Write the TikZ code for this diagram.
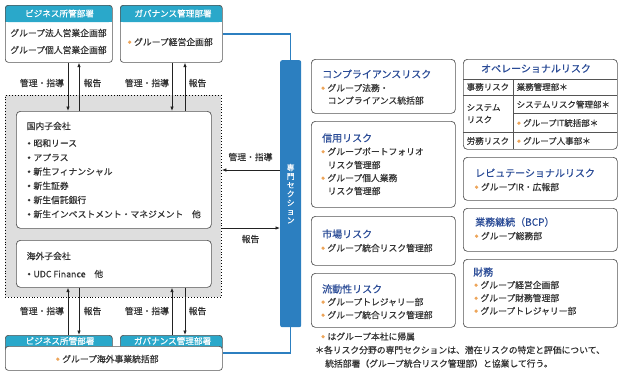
\documentclass[tikz,border=0pt]{standalone}
\usepackage{fontspec}
\setmainfont{Noto Sans CJK JP}[FakeBold=0.5]
\usetikzlibrary{arrows.meta}

\newcommand{\bodyFont}{\fontsize{8.8}{10}\selectfont}
\newcommand{\headFont}{\fontsize{8.6}{10}\selectfont}
\newcommand{\titleFont}{\fontsize{10}{12}\selectfont}
\newcommand{\tableFont}{\fontsize{8.5}{10}\selectfont}
\newcommand{\obul}{\makebox[1em][c]{\tikz[baseline=-0.36em]\fill[bulletOrange] (0,0) circle (1.8pt);}}
\newcommand{\bbul}{\makebox[1em][c]{\tikz[baseline=-0.36em]\fill[textGrey] (0,0) circle (1.4pt);}}

\begin{document}
\begin{tikzpicture}[x=1pt, y=-1pt,
    panel/.style={draw=borderGrey, line width=0.7pt, rounded corners=3pt, anchor=north west, inner sep=0pt},
    whitePanel/.style={panel, fill=white},
    tabPanel/.style={panel, fill=headTeal},
    txt/.style={anchor=west, inner sep=0pt, font=\bodyFont, text=textGrey},
    ctxt/.style={inner sep=0pt, font=\bodyFont, text=textGrey},
    tabletxt/.style={anchor=west, inner sep=0pt, font=\tableFont, text=textGrey},
    headtxt/.style={inner sep=0pt, font=\headFont, text=white},
    riskTitle/.style={anchor=west, inner sep=0pt, font=\titleFont, text=titleBlue},
    flow/.style={draw=lineBlack, line width=0.8pt, -{Latex[length=4.5pt,width=3.6pt]}},
    barLink/.style={draw=barBlue, line width=1.3pt},
    tableLine/.style={draw=borderGrey, line width=0.6pt},
]
    \definecolor{borderGrey}{HTML}{555555}
    \definecolor{textGrey}{HTML}{333333}
    \definecolor{lineBlack}{HTML}{222222}
    \definecolor{headTeal}{HTML}{2AA8CA}
    \definecolor{barBlue}{HTML}{2C7FC0}
    \definecolor{titleBlue}{HTML}{2A4B96}
    \definecolor{bulletOrange}{HTML}{EDA55A}
    \definecolor{areaGrey}{HTML}{DEDEDE}

    \useasboundingbox (0,0) rectangle (621,376);

    % Arrow columns and rows
    \coordinate (colA) at (68,0);
    \coordinate (colB) at (79,0);
    \coordinate (colC) at (172,0);
    \coordinate (colD) at (185,0);
    \coordinate (rowGuide) at (0,170);
    \coordinate (rowReport) at (0,228);

    % Draw top units
    \fill[headTeal, rounded corners=3pt] (5,5) rectangle (112,22);
    \fill[headTeal] (5,14) rectangle (112,22);
    \node[panel, minimum width=107pt, minimum height=57pt] (bizTop) at (5,5) {};
    \node[headtxt] (bizTopHead) at (59.5,13.5) {ビジネス所管部署};
    \node[ctxt] (bizTopA) at (58.5,33) {グループ法人営業企画部};
    \node[ctxt] (bizTopB) at (58.5,50) {グループ個人営業企画部};

    \fill[headTeal, rounded corners=3pt] (120,5) rectangle (222,22);
    \fill[headTeal] (120,14) rectangle (222,22);
    \node[panel, minimum width=102pt, minimum height=57pt] (govTop) at (120,5) {};
    \node[headtxt] (govTopHead) at (173,13.5) {ガバナンス管理部署};
    \node[ctxt] (govTopA) at (169,42) {\obul グループ経営企画部};

    % Draw group area
    \node[anchor=north west, inner sep=0pt, minimum width=216pt, minimum height=202pt,
          fill=areaGrey, draw=black, dotted, line width=0.9pt] (groupArea) at (5,95) {};
    \node[whitePanel, rounded corners=4pt, minimum width=195pt, minimum height=117pt] (domestic) at (16,111) {};
    \node[txt] (domTitle) at (26.5,126) {国内子会社};
    \foreach \name [count=\i] in {昭和リース, アプラス, 新生フィナンシャル, 新生証券, 新生信託銀行, 新生インベストメント・マネジメント　他}
        \node[txt] (domItem\i) at (24.5,{129+14.2*\i}) {\bbul\name};

    \node[whitePanel, rounded corners=4pt, minimum width=195pt, minimum height=47pt] (overseas) at (16,240) {};
    \node[txt] (ovsTitle) at (26.5,256) {海外子会社};
    \node[txt] (ovsItem) at (24.5,274) {\bbul UDC Finance　他};

    % Draw bottom unit
    \node[tabPanel, minimum width=107pt, minimum height=15pt] (bizTab) at (5,335) {};
    \node[tabPanel, minimum width=102pt, minimum height=15pt] (govTab) at (120,335) {};
    \node[whitePanel, minimum width=217pt, minimum height=24pt] (bottomBody) at (5,346) {};
    \node[headtxt] (bizTabText) at (60,341) {ビジネス所管部署};
    \node[headtxt] (govTabText) at (172.5,341) {ガバナンス管理部署};
    \node[ctxt] (bottomItem) at (106,359) {\obul グループ海外事業統括部};

    % Draw specialist section bar
    \node[anchor=north west, inner sep=0pt, minimum width=21pt, minimum height=267pt,
          fill=barBlue, rounded corners=2pt] (senmon) at (280,60) {};
    \node[inner sep=0pt, align=center, text=white, font=\fontsize{7.8}{8.8}\selectfont] (senmonText) at (senmon.center)
        {専\\門\\セ\\ク\\シ\\ョ\\ン};
    \draw[barLink] (govTop.east) -| (senmon.north);
    \draw[barLink] (senmon.south) |- ([yshift=5.5pt]bottomBody.east);

    % Draw vertical arrows
    \draw[flow] (bizTop.south -| colA) -- (domestic.north -| colA);
    \draw[flow] (domestic.north -| colB) -- (bizTop.south -| colB);
    \draw[flow] (govTop.south -| colC) -- (domestic.north -| colC);
    \draw[flow] (domestic.north -| colD) -- (govTop.south -| colD);
    \draw[flow] (bizTab.north -| colA) -- (overseas.south -| colA);
    \draw[flow] (overseas.south -| colB) -- (bizTab.north -| colB);
    \draw[flow] (govTab.north -| colC) -- (overseas.south -| colC);
    \draw[flow] (overseas.south -| colD) -- (govTab.north -| colD);

    % Draw horizontal arrows
    \draw[flow] (senmon.west |- rowGuide) -- (groupArea.east |- rowGuide);
    \draw[flow] (groupArea.east |- rowReport) -- (senmon.west |- rowReport);

    % Label arrows
    \foreach \y/\tag in {83/Top, 311/Bottom} {
        \node[ctxt] (guideL\tag) at (42,\y) {管理・指導};
        \node[ctxt] (reportL\tag) at (92.5,\y) {報告};
        \node[ctxt] (guideR\tag) at (147,\y) {管理・指導};
        \node[ctxt] (reportR\tag) at (197.5,\y) {報告};
    }
    \node[ctxt] (guideMid) at (250.5,157) {管理・指導};
    \node[ctxt] (reportMid) at (250.5,239) {報告};

    % Draw risk boxes, left column
    \node[panel, rounded corners=4pt, minimum width=144pt, minimum height=54pt] (compliance) at (311,59) {};
    \node[riskTitle] (complianceTitle) at (322,74) {コンプライアンスリスク};
    \node[txt] (complianceA) at (318.5,88) {\obul グループ法務・};
    \node[txt] (complianceB) at (327.5,100.5) {コンプライアンス統括部};

    \node[panel, rounded corners=4pt, minimum width=144pt, minimum height=86pt] (credit) at (311,121) {};
    \node[riskTitle] (creditTitle) at (322,138) {信用リスク};
    \node[txt] (creditA) at (318.5,151.5) {\obul グループポートフォリオ};
    \node[txt] (creditB) at (327.5,165) {リスク管理部};
    \node[txt] (creditC) at (318.5,178) {\obul グループ個人業務};
    \node[txt] (creditD) at (327.5,191) {リスク管理部};

    \node[panel, rounded corners=4pt, minimum width=144pt, minimum height=49pt] (market) at (311,216) {};
    \node[riskTitle] (marketTitle) at (322,234) {市場リスク};
    \node[txt] (marketA) at (318.5,248) {\obul グループ統合リスク管理部};

    \node[panel, rounded corners=4pt, minimum width=144pt, minimum height=54pt] (liquidity) at (311,273) {};
    \node[riskTitle] (liquidityTitle) at (322,289) {流動性リスク};
    \node[txt] (liquidityA) at (318.5,302) {\obul グループトレジャリー部};
    \node[txt] (liquidityB) at (318.5,315) {\obul グループ統合リスク管理部};

    % Draw risk boxes, right column
    \node[panel, rounded corners=4pt, minimum width=154pt, minimum height=90pt] (operational) at (463,59) {};
    \node[inner sep=0pt, font=\titleFont, text=titleBlue] (operationalTitle) at (536,68.5) {オペレーショナルリスク};
    \draw[tableLine] (463,79) -- (617,79);
    \draw[tableLine] (463,95) -- (617,95);
    \draw[tableLine] (513,113) -- (617,113);
    \draw[tableLine] (463,132) -- (617,132);
    \draw[tableLine] (513,79) -- (513,149);
    \node[tabletxt] (opOffice) at (466.5,87) {事務リスク};
    \node[tabletxt] (opOfficeDept) at (516.5,87) {業務管理部＊};
    \node[tabletxt] (opSystemA) at (466.5,107.5) {システム};
    \node[tabletxt] (opSystemB) at (466.5,119.5) {リスク};
    \node[tabletxt] (opSystemDeptA) at (516.5,104.5) {システムリスク管理部＊};
    \node[tabletxt] (opSystemDeptB) at (514.5,123) {\obul グループIT統括部＊};
    \node[tabletxt] (opLabour) at (466.5,141) {労務リスク};
    \node[tabletxt] (opLabourDept) at (514.5,141) {\obul グループ人事部＊};

    \node[panel, rounded corners=4pt, minimum width=154pt, minimum height=43pt] (reputation) at (463,157) {};
    \node[riskTitle] (reputationTitle) at (475,173) {レピュテーショナルリスク};
    \node[txt] (reputationA) at (472,187) {\obul グループIR・広報部};

    \node[panel, rounded corners=4pt, minimum width=154pt, minimum height=43pt] (continuity) at (463,208) {};
    \node[riskTitle] (continuityTitle) at (475,222) {業務継続（BCP）};
    \node[txt] (continuityA) at (472,236) {\obul グループ総務部};

    \node[panel, rounded corners=4pt, minimum width=154pt, minimum height=68pt] (finance) at (463,259) {};
    \node[riskTitle] (financeTitle) at (473,272) {財務};
    \node[txt] (financeA) at (471.5,285) {\obul グループ経営企画部};
    \node[txt] (financeB) at (471.5,298) {\obul グループ財務管理部};
    \node[txt] (financeC) at (471.5,311) {\obul グループトレジャリー部};

    % Notes
    \node[txt] (noteBullet) at (318.5,336.5) {\obul はグループ本社に帰属};
    \node[txt] (noteStarA) at (315,350) {＊各リスク分野の専門セクションは、潜在リスクの特定と評価について、};
    \node[txt] (noteStarB) at (325,363.5) {統括部署（グループ統合リスク管理部）と協業して行う。};

\end{tikzpicture}
\end{document}
